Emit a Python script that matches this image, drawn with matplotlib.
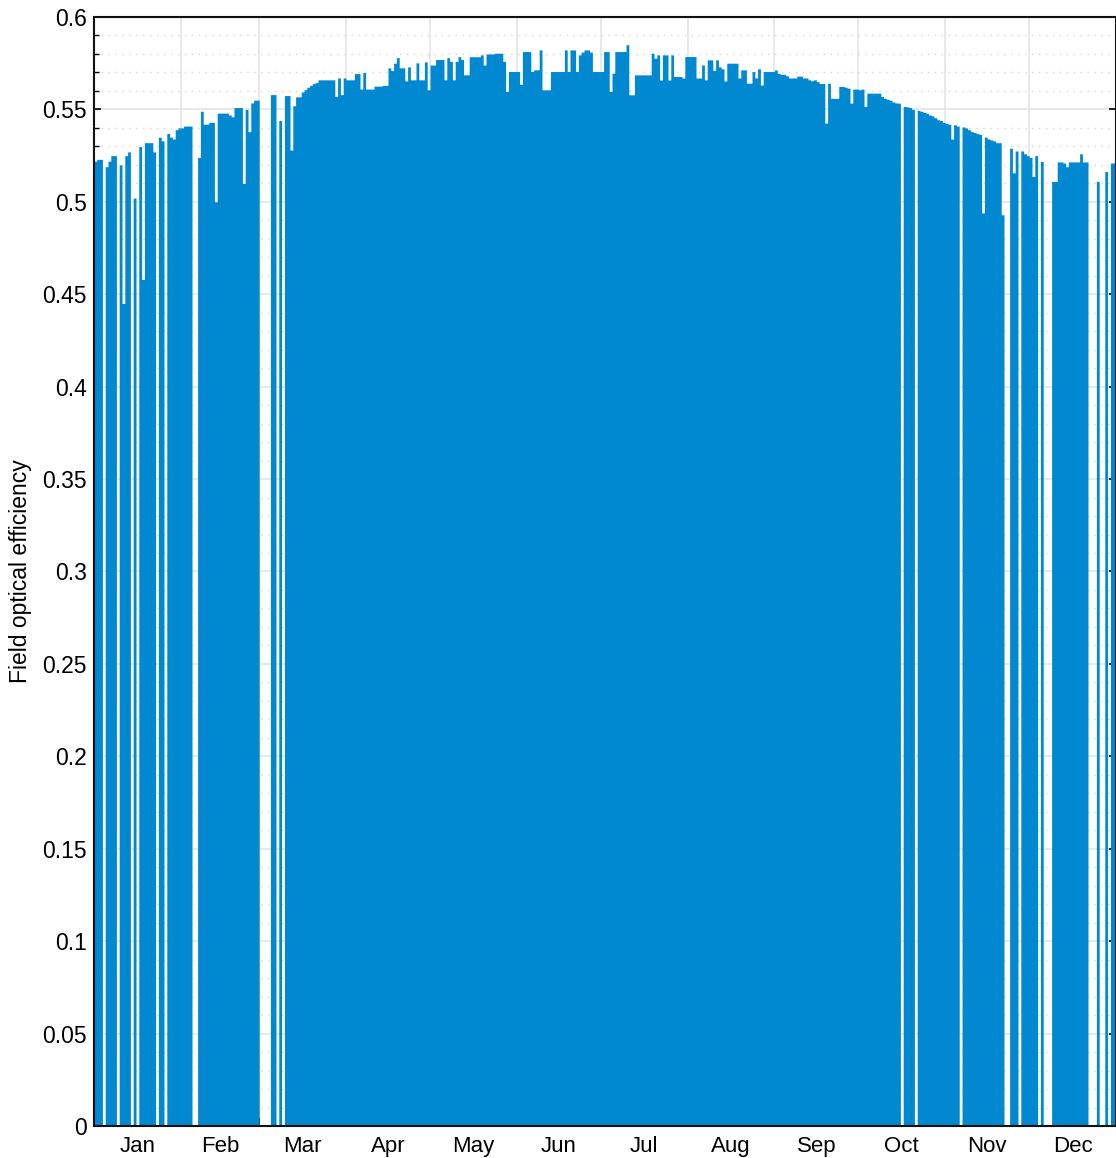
import numpy as np
import matplotlib
matplotlib.use("Agg")
import matplotlib.pyplot as plt
from matplotlib.ticker import MultipleLocator, FixedLocator, FuncFormatter

# daily field optical efficiency (0 = no operation that day)
jan = [0.522, 0.523, 0.523, 0, 0.519, 0.522, 0.525, 0.525, 0, 0.520,
       0.445, 0.525, 0.527, 0, 0.502, 0, 0.530, 0.458, 0.532, 0.532,
       0.532, 0.527, 0, 0.535, 0.533, 0, 0.537, 0.535, 0.534, 0.539,
       0.540]
feb = [0.540, 0.541, 0.541, 0.541, 0, 0, 0.524, 0.549, 0.542, 0.542,
       0.543, 0.543, 0.500, 0.548, 0.548, 0.548, 0.548, 0.547, 0.546, 0.551,
       0.551, 0.551, 0.510, 0.550, 0.538, 0.5535, 0.555, 0.555]
mar = [0, 0, 0, 0, 0.558, 0.558, 0, 0.544, 0, 0.5575,
       0.5575, 0.528, 0.552, 0.5568, 0.5568, 0.5594, 0.5607, 0.562, 0.563, 0.564,
       0.5645, 0.566, 0.566, 0.566, 0.566, 0.566, 0.566, 0.557, 0.567, 0.558,
       0.567]
apr = [0.566, 0.566, 0.566, 0.5694, 0.5694, 0.561, 0.570, 0.561, 0.561, 0.561,
       0.5626, 0.5626, 0.5626, 0.563, 0.563, 0.5725, 0.571, 0.575, 0.578, 0.5725,
       0.5725, 0.5654, 0.573, 0.566, 0.566, 0.5752, 0.566, 0.566, 0.5757, 0.5606]
may = [0.574, 0.574, 0.577, 0.577, 0.577, 0.566, 0.578, 0.576, 0.566, 0.576,
       0.5785, 0.577, 0.5687, 0.5687, 0.5785, 0.5785, 0.5785, 0.5785, 0.5795, 0.574,
       0.580, 0.580, 0.580, 0.5804, 0.5804, 0.5804, 0.576, 0.5597, 0.5705, 0.5705,
       0.5705]
jun = [0.5705, 0.5636, 0.5813, 0.5813, 0.5813, 0.5705, 0.5714, 0.5714, 0.5822, 0.5606,
       0.5606, 0.5606, 0.5705, 0.5705, 0.5705, 0.5705, 0.5705, 0.5822, 0.5705, 0.5822,
       0.5822, 0.5705, 0.5795, 0.581, 0.5822, 0.5822, 0.581, 0.5705, 0.5705, 0.5705]
jul = [0.5705, 0.5813, 0.5813, 0.5597, 0.5696, 0.5813, 0.5813, 0.5813, 0.5813, 0.585,
       0.5579, 0.5579, 0.5687, 0.5687, 0.5687, 0.5687, 0.5687, 0.5687, 0.5804, 0.5777,
       0.5795, 0.5659, 0.5795, 0.5795, 0.5659, 0.5795, 0.5678, 0.5678, 0.5678, 0.567,
       0.5786]
aug = [0.5786, 0.5786, 0.5786, 0.567, 0.567, 0.5741, 0.566, 0.5768, 0.5768, 0.571,
       0.5768, 0.573, 0.572, 0.5654, 0.575, 0.575, 0.575, 0.575, 0.567, 0.5714,
       0.5714, 0.5642, 0.5642, 0.5705, 0.567, 0.572, 0.5632, 0.5705, 0.5705, 0.5705,
       0.5705]
sep = [0.5714, 0.5696, 0.569, 0.569, 0.5682, 0.567, 0.567, 0.567, 0.568, 0.568,
       0.567, 0.567, 0.566, 0.5655, 0.566, 0.565, 0.564, 0.564, 0.5426, 0.5642,
       0.556, 0.556, 0.556, 0.5624, 0.5624, 0.562, 0.5615, 0.5534, 0.561, 0.561]
oct_ = [0.5606, 0.561, 0.5516, 0.5588, 0.5588, 0.5588, 0.5588, 0.5588, 0.557, 0.556,
        0.5555, 0.555, 0.554, 0.5535, 0.5534, 0, 0.5516, 0.5514, 0.551, 0.550,
        0, 0.5495, 0.549, 0.5485, 0.548, 0.547, 0.5465, 0.5455, 0.5444, 0.544,
        0.543]
nov = [0.5425, 0.542, 0.534, 0.5417, 0.541, 0, 0.5405, 0.540, 0.539, 0.538,
       0.5375, 0.537, 0.5365, 0.494, 0.535, 0.534, 0.5335, 0.533, 0.532, 0.532,
       0.493, 0, 0, 0.529, 0.5157, 0.5275, 0, 0.5275, 0.526, 0.525]
dec = [0.524, 0.5137, 0.525, 0, 0.5218, 0, 0, 0, 0.511, 0.511,
       0.5216, 0.5216, 0.521, 0.519, 0.5216, 0.5216, 0.5216, 0.5216, 0.526, 0.5216,
       0.5216, 0, 0, 0, 0.511, 0, 0, 0.5164, 0, 0.521,
       0.521]

months = ["Jan", "Feb", "Mar", "Apr", "May", "Jun",
          "Jul", "Aug", "Sep", "Oct", "Nov", "Dec"]
monthly = [jan, feb, mar, apr, may, jun, jul, aug, sep, oct_, nov, dec]

BLUE = "#0088d1"

vals = np.concatenate([np.array(m, dtype=float) for m in monthly])
ndays = len(vals)
edges = np.arange(ndays + 1)
bounds = np.cumsum([0] + [len(m) for m in monthly])
mids = (bounds[:-1] + bounds[1:]) / 2

plt.rcParams["font.family"] = ["Liberation Sans", "DejaVu Sans"]

fig = plt.figure(figsize=(11.16, 11.58), dpi=100)
ax = fig.add_axes([94 / 1116, 32 / 1158, 1022 / 1116, 1109 / 1158])

ax.fill_between(edges, np.append(vals, vals[-1]), step="post",
                color=BLUE, linewidth=0, zorder=2)

ax.set_xlim(0, ndays)
ax.set_ylim(0, 0.6)

# y axis
ax.yaxis.set_major_locator(MultipleLocator(0.05))
ax.yaxis.set_minor_locator(MultipleLocator(0.01))
ax.yaxis.set_major_formatter(FuncFormatter(lambda v, p: f"{v:.2f}".rstrip("0").rstrip(".")))
ax.tick_params(axis="y", which="major", direction="in", length=5, width=1.2,
               left=True, right=True, labelsize=16.5, pad=5)
ax.tick_params(axis="y", which="minor", direction="in", length=3.5, width=1.0,
               left=True, right=False)

# x axis: ticks at month boundaries, labels centred in each month
ax.xaxis.set_major_locator(FixedLocator(bounds))
ax.xaxis.set_major_formatter(FuncFormatter(lambda v, p: ""))
ax.xaxis.set_minor_locator(FixedLocator(mids))
ax.xaxis.set_minor_formatter(FuncFormatter(lambda v, p: months[p] if p < 12 else ""))
ax.tick_params(axis="x", which="major", direction="in", length=6, width=1.2)
ax.tick_params(axis="x", which="minor", length=0, labelsize=16, pad=7)

ax.set_axisbelow(True)
ax.grid(True, which="major", color="#e4e4e4", linewidth=1.2, zorder=0)
ax.grid(True, which="minor", axis="y", color="#d6d6d6", linewidth=1.0,
        linestyle=(0, (1, 4)), zorder=0)

for side in ["left", "bottom", "top", "right"]:
    ax.spines[side].set_linewidth(1.5)
    ax.spines[side].set_color("#111111")
    ax.spines[side].set_zorder(5)

ax.set_ylabel("Field optical efficiency", fontsize=16.5)
ax.yaxis.set_label_coords(-0.061, 0.5)
ax.yaxis.label.set_va("bottom")

fig.savefig("out.png", dpi=100)
